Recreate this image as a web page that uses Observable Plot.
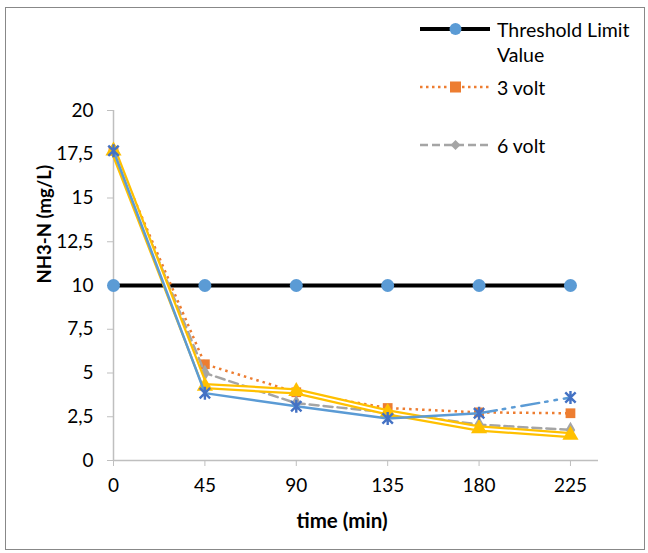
<!DOCTYPE html>
<html>
<head>
<meta charset="utf-8">
<script src="https://cdn.jsdelivr.net/npm/d3@7"></script>
<script src="https://cdn.jsdelivr.net/npm/@observablehq/plot@0.6"></script>
<style>
  body { margin: 0; background: #fff; }
  #wrap { position: relative; width: 648px; height: 553px; font-family: Lato, "Open Sans", sans-serif; }
  #border { position: absolute; left: 5px; top: 7px; width: 640px; height: 543px; border: 1px solid #888; box-sizing: border-box; pointer-events: none; }
  .leg { position: absolute; font-size: 19.5px; color: #000; line-height: 25px; }
  .legsvg { position: absolute; }
</style>
</head>
<body>
<div id="wrap">
  <div id="chart"></div>
  <div id="border"></div>
</div>
<script>
const times = [0, 45, 90, 135, 180, 225];
const threshold = [10, 10, 10, 10, 10, 10];
const volt3 = [17.7, 5.5, 3.9, 3.0, 2.75, 2.7];
const volt6 = [17.7, 5.0, 3.27, 2.75, 2.05, 1.75];
const seriesYellow = [17.7, 4.25, 3.95, 2.75, 1.83, 1.45];
const seriesBlue = [17.7, 3.85, 3.1, 2.4, 2.7, 3.6];
const yTicks = [0, 2.5, 5, 7.5, 10, 12.5, 15, 17.5, 20];
const legendLabels = ["Threshold Limit Value", "3 volt", "6 volt"];
const xTitle = "time (min)";
const yTitle = "NH3-N (mg/L)";

const rows = (vals) => times.map((t, i) => ({t, v: vals[i]}));
const thr = rows(threshold), v3 = rows(volt3), v6 = rows(volt6), yel = rows(seriesYellow), blu = rows(seriesBlue);
const bluSolid = blu.slice(0, 5), bluDash = blu.slice(4);

const starSymbol = {
  draw(ctx, size) {
    const r = Math.sqrt(size / Math.PI);
    const d = r * 0.8;
    ctx.moveTo(-d, -d); ctx.lineTo(d, d);
    ctx.moveTo(d, -d); ctx.lineTo(-d, d);
    ctx.moveTo(0, -r); ctx.lineTo(0, r);
  }
};

const chart = Plot.plot({
  width: 648,
  height: 553,
  marginLeft: 113,
  marginRight: 50,
  marginTop: 110,
  marginBottom: 93,
  style: {fontFamily: "Lato, 'Open Sans', sans-serif", fontSize: "19px", background: "transparent"},
  x: {domain: [0, 238.8], axis: null},
  y: {domain: [0, 20], axis: null},
  marks: [
    Plot.ruleY([0], {stroke: "#bfbfbf", strokeWidth: 1.5}),
    Plot.ruleX([0], {stroke: "#bfbfbf", strokeWidth: 1.5}),
    Plot.axisX({ticks: times, tickSize: 6, tickPadding: 12, stroke: "#bfbfbf", fill: "#000", fontSize: 19, label: null, tickFormat: d => String(d)}),
    Plot.axisY({ticks: yTicks, tickSize: 6, tickPadding: 14, stroke: "#bfbfbf", fill: "#000", fontSize: 19, label: null, tickFormat: d => String(d).replace(".", ",")}),
    Plot.text([xTitle], {frameAnchor: "bottom", dx: -14, dy: 67, fontWeight: "bold", fontSize: 20.5, fill: "#000"}),
    Plot.text([yTitle], {frameAnchor: "left", dx: -68, dy: -2, rotate: -90, fontWeight: "bold", fontSize: 18.5, fill: "#000"}),
    // Threshold
    Plot.line(thr, {x: "t", y: "v", stroke: "#000", strokeWidth: 4}),
    Plot.dot(thr, {x: "t", y: "v", r: 6.5, fill: "#5B9BD5", stroke: "none"}),
    // 3 volt
    Plot.line(v3, {x: "t", y: "v", stroke: "#ED7D31", strokeWidth: 2.5, strokeDasharray: "2.5,4", strokeLinecap: "butt"}),
    Plot.dot(v3, {x: "t", y: "v", symbol: "square", r: 5.5, fill: "#ED7D31", stroke: "none"}),
    // 6 volt
    Plot.line(v6, {x: "t", y: "v", stroke: "#A5A5A5", strokeWidth: 2.5, strokeDasharray: "9,5"}),
    Plot.dot(v6, {x: "t", y: "v", symbol: "diamond", r: 5, fill: "#A5A5A5", stroke: "none"}),
    // yellow double line
    Plot.line(yel, {x: "t", y: "v", stroke: "#FFC000", strokeWidth: 6.5}),
    Plot.line(yel, {x: "t", y: "v", stroke: "#fff", strokeWidth: 2}),
    Plot.dot(yel, {x: "t", y: "v", symbol: "triangle", r: 6, fill: "#FFC000", stroke: "none"}),
    // blue
    Plot.line(bluSolid, {x: "t", y: "v", stroke: "#5B9BD5", strokeWidth: 2.5}),
    Plot.line(bluDash, {x: "t", y: "v", stroke: "#5B9BD5", strokeWidth: 2.5, strokeDasharray: "18,6,2.5,7,2.5,7"}),
    Plot.dot(blu, {x: "t", y: "v", symbol: starSymbol, r: 6.5, fill: "none", stroke: "#4472C4", strokeWidth: 2.4})
  ]
});
document.getElementById("chart").appendChild(chart);

// Legend
const wrap = document.getElementById("wrap");
function addSample(top, html) {
  const s = document.createElement("div");
  s.className = "legsvg";
  s.style.left = "418px";
  s.style.top = (top - 10) + "px";
  s.innerHTML = `<svg width="74" height="20">${html}</svg>`;
  wrap.appendChild(s);
}
function addLabel(top, text, width) {
  const d = document.createElement("div");
  d.className = "leg";
  d.style.left = "497px";
  d.style.top = (top - 12.5) + "px";
  d.style.width = width + "px";
  d.textContent = text;
  wrap.appendChild(d);
}
addSample(29, `<line x1="2" y1="10" x2="72" y2="10" stroke="#000" stroke-width="4"/><circle cx="37.5" cy="10" r="6" fill="#5B9BD5"/>`);
addLabel(29, legendLabels[0], 145);
addSample(87, `<line x1="2" y1="10" x2="72" y2="10" stroke="#ED7D31" stroke-width="2.5" stroke-dasharray="2.5,3.5"/><rect x="32" y="4.5" width="11" height="11" fill="#ED7D31"/>`);
addLabel(87, legendLabels[1], 145);
addSample(145, `<line x1="2" y1="10" x2="72" y2="10" stroke="#A5A5A5" stroke-width="2.5" stroke-dasharray="8,4"/><path d="M37.5,5 L42.5,10 L37.5,15 L32.5,10 Z" fill="#A5A5A5"/>`);
addLabel(145, legendLabels[2], 145);
</script>
</body>
</html>
